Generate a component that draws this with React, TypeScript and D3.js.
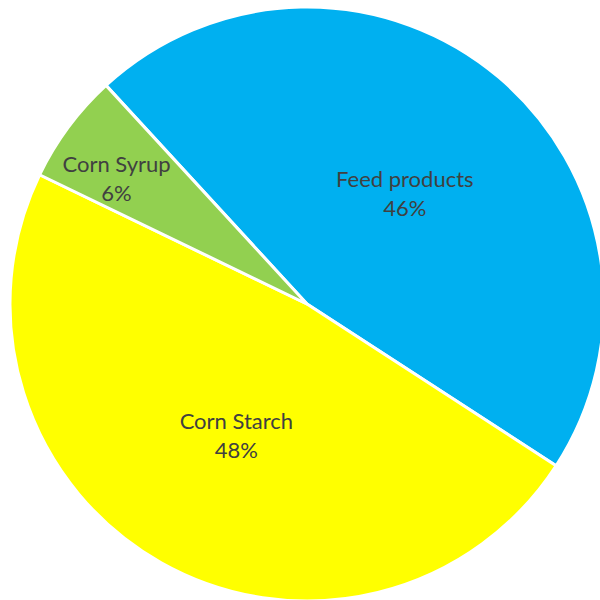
import React from "react";
import * as d3 from "d3";

const categories = ["Feed products", "Corn Starch", "Corn Syrup"];
const values = [46, 48, 6];
const percentLabels = ["46%", "48%", "6%"];
const colors = ["#00B0F0", "#FFFF00", "#92D050"];
const labelRadiusFactors = [0.5, 0.5, 0.77];
const labelAngleOffsetsDeg = [1, -1, -3];

export default function App() {
  const width = 600;
  const height = 600;
  const cx = 307;
  const cy = 304;
  const r = 297;
  const start = (-42.6 * Math.PI) / 180;

  const pie = d3
    .pie<number>()
    .sort(null)
    .value((d) => d)
    .startAngle(start)
    .endAngle(start + 2 * Math.PI);
  const arcs = pie(values);
  const arc = d3.arc<d3.PieArcDatum<number>>().innerRadius(0).outerRadius(r);

  return (
    <svg
      width={width}
      height={height}
      style={{ position: "absolute", left: 0, top: 0 }}
    >
      <rect width={width} height={height} fill="#ffffff" />
      <g transform={`translate(${cx},${cy})`}>
        {arcs.map((a, i) => (
          <path
            key={categories[i]}
            d={arc(a) || ""}
            fill={colors[i]}
            stroke="#ffffff"
            strokeWidth={3}
            strokeLinejoin="round"
          />
        ))}
        {arcs.map((a, i) => {
          const mid =
            (a.startAngle + a.endAngle) / 2 +
            (labelAngleOffsetsDeg[i] * Math.PI) / 180;
          const lr = r * labelRadiusFactors[i];
          const x = Math.sin(mid) * lr;
          const y = -Math.cos(mid) * lr;
          return (
            <text
              key={"l" + i}
              x={x}
              y={y}
              textAnchor="middle"
              fontFamily="Lato, 'Open Sans', sans-serif"
              fontSize={22}
              fill="#404040"
            >
              <tspan x={x} dy="-0.25em">{categories[i]}</tspan>
              <tspan x={x} dy="1.33em">{percentLabels[i]}</tspan>
            </text>
          );
        })}
      </g>
    </svg>
  );
}
